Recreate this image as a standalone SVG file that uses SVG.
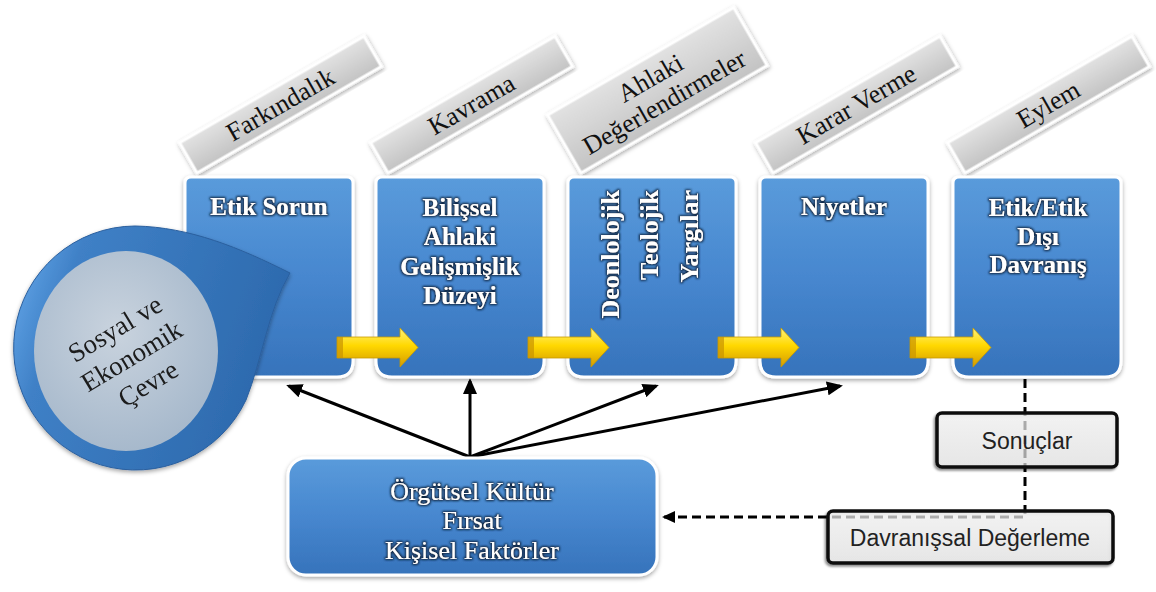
<svg xmlns="http://www.w3.org/2000/svg" xmlns:xlink="http://www.w3.org/1999/xlink" width="1156" height="592" viewBox="0 0 1156 592">
  <defs>
    <style>
      .box { fill: url(#blueGrad); stroke: #ffffff; stroke-width: 3; filter: url(#shadow); }
      .tag { fill: url(#grayGrad); stroke: #ffffff; stroke-width: 3; filter: url(#shadow); }
      .tagtxt { font-family: "Liberation Serif", "Times New Roman", serif; font-size: 26px; fill: #111; text-anchor: middle; }
      .btxt { font-family: "Liberation Serif", "Times New Roman", serif; font-size: 25px; font-weight: bold; fill: #ffffff; text-anchor: middle; filter: url(#glow); }
      .vtxt { font-family: "Liberation Serif", "Times New Roman", serif; font-size: 26px; font-weight: bold; fill: #ffffff; text-anchor: end; filter: url(#glow); }
      .ctxt { font-family: "Liberation Serif", "Times New Roman", serif; font-size: 26px; fill: #ffffff; text-anchor: middle; filter: url(#glow); }
      .drop { font-family: "Liberation Serif", "Times New Roman", serif; font-size: 27px; fill: #1a1a1a; text-anchor: middle; }
      .fb { fill: url(#whiteGrad); fill-opacity: 0.62; stroke: #111; stroke-width: 3.5; filter: url(#shadowBL); }
      .fbtxt { font-family: "Liberation Sans", Arial, sans-serif; font-size: 23px; fill: #222; text-anchor: middle; }
      .line { fill: none; stroke: #000; stroke-width: 3; marker-end: url(#head); }
      .dash { fill: none; stroke: #000; stroke-width: 3; stroke-dasharray: 9 5; }
    </style>
    <linearGradient id="blueGrad" x1="0" y1="0" x2="0" y2="1">
      <stop offset="0" stop-color="#5a9bdb"/>
      <stop offset="0.5" stop-color="#4787cf"/>
      <stop offset="1" stop-color="#3673bb"/>
    </linearGradient>
    <linearGradient id="grayGrad" x1="0" y1="0" x2="0" y2="1">
      <stop offset="0" stop-color="#e2e2e2"/>
      <stop offset="1" stop-color="#c3c3c3"/>
    </linearGradient>
    <linearGradient id="whiteGrad" x1="0" y1="0" x2="0" y2="1">
      <stop offset="0" stop-color="#ffffff"/>
      <stop offset="1" stop-color="#ececec"/>
    </linearGradient>
    <linearGradient id="yellowGrad" x1="0" y1="0" x2="0" y2="1">
      <stop offset="0" stop-color="#fff27a"/>
      <stop offset="0.45" stop-color="#ffd800"/>
      <stop offset="1" stop-color="#d49a00"/>
    </linearGradient>
    <linearGradient id="dropGrad" x1="0" y1="0" x2="1" y2="0.3">
      <stop offset="0" stop-color="#6aaef0"/>
      <stop offset="0.25" stop-color="#3f80c6"/>
      <stop offset="1" stop-color="#2d6aae"/>
    </linearGradient>
    <radialGradient id="innerGrad" cx="0.45" cy="0.4" r="0.6">
      <stop offset="0" stop-color="#c9d3de"/>
      <stop offset="1" stop-color="#a7b9cc"/>
    </radialGradient>
    <filter id="shadow" x="-10%" y="-10%" width="120%" height="125%">
      <feDropShadow dx="0" dy="2" stdDeviation="2" flood-color="#000" flood-opacity="0.35"/>
    </filter>
    <filter id="shadowBL" x="-10%" y="-20%" width="120%" height="150%">
      <feDropShadow dx="-1.5" dy="2" stdDeviation="1.2" flood-color="#000" flood-opacity="0.45"/>
    </filter>
    <filter id="glow" x="-10%" y="-30%" width="120%" height="160%">
      <feMorphology in="SourceAlpha" operator="dilate" radius="1.4" result="d"/>
      <feGaussianBlur in="d" stdDeviation="1.2" result="b"/>
      <feFlood flood-color="#0f2540"/>
      <feComposite in2="b" operator="in" result="g"/>
      <feMerge>
        <feMergeNode in="g"/>
        <feMergeNode in="SourceGraphic"/>
      </feMerge>
    </filter>
    <marker id="head" markerUnits="userSpaceOnUse" viewBox="0 0 16 14" markerWidth="16" markerHeight="14" refX="13" refY="7" orient="auto">
      <path d="M0,0 L16,7 L0,14 z" fill="#000"/>
    </marker>
    <marker id="headSmall" markerUnits="userSpaceOnUse" viewBox="0 0 13 12" markerWidth="13" markerHeight="12" refX="11" refY="6" orient="auto">
      <path d="M0,0 L13,6 L0,12 z" fill="#000"/>
    </marker>
    <!-- process box: square-ish top, rounded bottom -->
    <path id="stepBox" d="M6,0 H162 Q168,0 168,6 V184 Q168,200 152,200 H16 Q0,200 0,184 V6 Q0,0 6,0 Z"/>
    <!-- yellow block arrow between steps -->
    <g id="yarrow">
      <path d="M0,10 H63 V1 L81,20.5 L63,40 V31 H0 Z" fill="url(#yellowGrad)" stroke="#c89a00" stroke-width="0.8"/>
      <rect x="0" y="10" width="6" height="21" fill="#c99300" opacity="0.7"/>
    </g>
  </defs>

  <rect width="1156" height="592" fill="#ffffff"/>

  <!-- connectors -->
  <g id="connectors">
    <path class="line" d="M470,457 L289,386"/>
    <path class="line" d="M470,457 L470,381"/>
    <path class="line" d="M470,457 L656,386"/>
    <path class="line" d="M470,457 L840,386"/>
    <path class="dash" d="M1025,379 V517 H664" marker-end="url(#headSmall)"/>
  </g>

  <!-- step tags -->
  <g id="tag-farkindalik" transform="translate(197,173) rotate(-30)">
    <rect class="tag" x="0" y="-35" width="213" height="35"/>
    <text class="tagtxt" x="106.5" y="-9">Farkındalık</text>
  </g>
  <g id="tag-kavrama" transform="translate(388,173) rotate(-30)">
    <rect class="tag" x="0" y="-35" width="213" height="35"/>
    <text class="tagtxt" x="106.5" y="-9">Kavrama</text>
  </g>
  <g id="tag-ahlaki" transform="translate(581,173) rotate(-30)">
    <rect class="tag" x="0" y="-67" width="215" height="67"/>
    <text class="tagtxt" x="107.5" y="-39">Ahlaki</text>
    <text class="tagtxt" x="107.5" y="-11">Değerlendirmeler</text>
  </g>
  <g id="tag-karar" transform="translate(773,173) rotate(-30)">
    <rect class="tag" x="0" y="-35" width="213" height="35"/>
    <text class="tagtxt" x="106.5" y="-9">Karar Verme</text>
  </g>
  <g id="tag-eylem" transform="translate(965,173) rotate(-30)">
    <rect class="tag" x="0" y="-35" width="213" height="35"/>
    <text class="tagtxt" x="106.5" y="-9">Eylem</text>
  </g>

  <!-- process steps -->
  <g id="step-etik-sorun">
    <use href="#stepBox" class="box" transform="translate(185,177)"/>
    <text class="btxt" x="269" y="215">Etik Sorun</text>
  </g>
  <g id="step-bilissel">
    <use href="#stepBox" class="box" transform="translate(376,177)"/>
    <text class="btxt" x="460" y="216">Bilişsel</text>
    <text class="btxt" x="460" y="245">Ahlaki</text>
    <text class="btxt" x="460" y="275">Gelişmişlik</text>
    <text class="btxt" x="460" y="304">Düzeyi</text>
  </g>
  <g id="step-yargilar">
    <use href="#stepBox" class="box" transform="translate(568,177)"/>
    <text class="vtxt" transform="translate(619,190) rotate(-90)">Deonlolojik</text>
    <text class="vtxt" transform="translate(658,190) rotate(-90)">Teolojik</text>
    <text class="vtxt" transform="translate(698,190) rotate(-90)">Yargılar</text>
  </g>
  <g id="step-niyetler">
    <use href="#stepBox" class="box" transform="translate(760,177)"/>
    <text class="btxt" x="844" y="215">Niyetler</text>
  </g>
  <g id="step-davranis">
    <use href="#stepBox" class="box" transform="translate(953,177)"/>
    <text class="btxt" x="1038" y="216">Etik/Etik</text>
    <text class="btxt" x="1038" y="245">Dışı</text>
    <text class="btxt" x="1038" y="273">Davranış</text>
  </g>

  <!-- environment drop -->
  <g id="cevre" filter="url(#shadow)">
    <path d="M290,273 C240,248 190,227 135,226 A122,122 0 1 0 246,400 C262,360 268,310 290,273 Z" fill="url(#dropGrad)" stroke="#2a5f9e" stroke-width="1"/>
    <ellipse cx="126" cy="351" rx="92" ry="100" fill="url(#innerGrad)"/>
    <g transform="translate(132,357) rotate(-31)">
      <text class="drop" x="0" y="-24">Sosyal ve</text>
      <text class="drop" x="0" y="8">Ekonomik</text>
      <text class="drop" x="0" y="40">Çevre</text>
    </g>
  </g>

  <!-- organisational factors -->
  <g id="faktorler">
    <rect class="box" x="288" y="458" width="369" height="117" rx="18"/>
    <text class="ctxt" x="472" y="500">Örgütsel Kültür</text>
    <text class="ctxt" x="472" y="529">Fırsat</text>
    <text class="ctxt" x="472" y="559">Kişisel Faktörler</text>
  </g>

  <!-- outcome boxes -->
  <g id="sonuclar">
    <rect class="fb" x="937" y="413" width="180" height="54" rx="5"/>
    <text class="fbtxt" x="1027" y="449">Sonuçlar</text>
  </g>
  <g id="degerleme">
    <rect class="fb" x="828" y="511" width="285" height="52" rx="5"/>
    <text class="fbtxt" x="970" y="546">Davranışsal Değerleme</text>
  </g>

  <!-- flow arrows between steps -->
  <g id="flow-arrows">
    <use href="#yarrow" transform="translate(337,327)"/>
    <use href="#yarrow" transform="translate(528,327)"/>
    <use href="#yarrow" transform="translate(718,327)"/>
    <use href="#yarrow" transform="translate(910,327)"/>
  </g>
</svg>
